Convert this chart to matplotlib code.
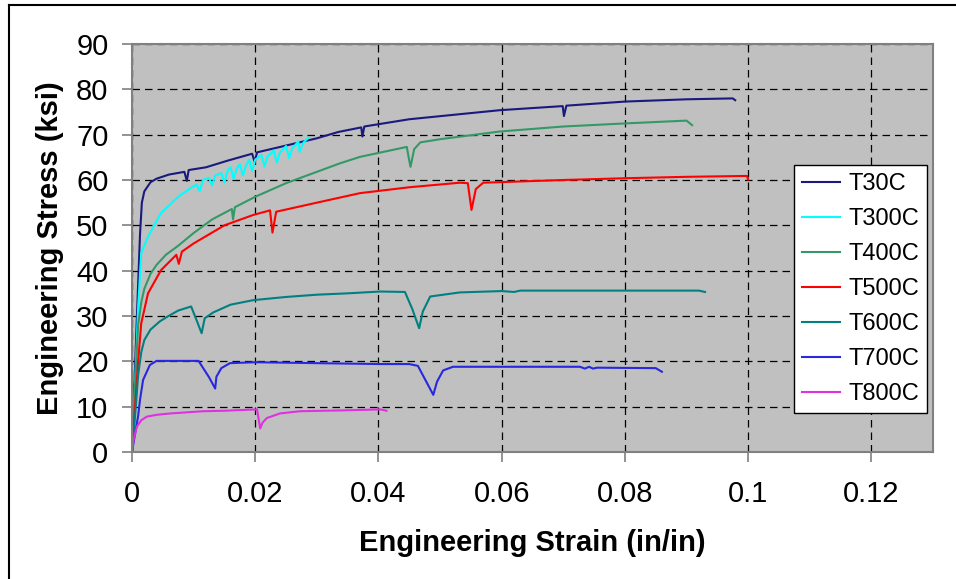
import matplotlib
matplotlib.use("Agg")
import matplotlib.pyplot as plt
from matplotlib.lines import Line2D

plt.rcParams['font.family'] = ['Liberation Sans', 'DejaVu Sans']

# strain (in/in) / stress (ksi)
t30_x = [0, 0.0008, 0.0013, 0.0016, 0.002, 0.003, 0.004, 0.006, 0.0085, 0.0089, 0.0092,
         0.012, 0.0156, 0.0195, 0.0199, 0.0203, 0.025, 0.03, 0.0335, 0.0372, 0.0374, 0.0377,
         0.045, 0.0597, 0.0699, 0.0701, 0.0705, 0.08, 0.09, 0.0975, 0.0979]
t30_y = [0, 30, 48, 55, 57.5, 59.5, 60.3, 61.2, 61.8, 59.8, 62.2,
         62.8, 64.3, 65.8, 64.0, 66.1, 67.6, 69.2, 70.6, 71.6, 69.6, 71.8,
         73.4, 75.4, 76.3, 74.1, 76.4, 77.3, 77.8, 78.0, 77.6]

t300_x = [0, 0.0005, 0.001, 0.0015, 0.0026, 0.0047, 0.0075, 0.0095, 0.0105, 0.011, 0.0115,
          0.0125, 0.013, 0.0135, 0.0145, 0.015, 0.0155, 0.016, 0.0165, 0.017, 0.0175,
          0.018, 0.0185, 0.019, 0.0195, 0.020, 0.021, 0.0215, 0.022, 0.023, 0.0235,
          0.024, 0.025, 0.0255, 0.026, 0.027, 0.0272, 0.0278, 0.0286]
t300_y = [0, 15, 32, 43.9, 47.5, 52.7, 56.3, 58.2, 59.0, 57.5, 60.0,
          60.5, 58.8, 61.0, 61.5, 59.5, 62.0, 62.8, 60.3, 62.5, 63.5,
          61.0, 63.2, 64.5, 62.0, 64.5, 65.5, 63.0, 65.2, 66.5, 63.8,
          66.0, 67.5, 64.8, 67.0, 68.5, 66.2, 68.2, 69.3]

t400_x = [0, 0.0005, 0.001, 0.0015, 0.002, 0.003, 0.004, 0.0055, 0.0075, 0.01, 0.013,
          0.0162, 0.0164, 0.0167, 0.02, 0.025, 0.03, 0.0338, 0.037, 0.0446, 0.0449,
          0.0452, 0.0458, 0.0468, 0.05, 0.0597, 0.07, 0.0803, 0.09, 0.0909]
t400_y = [0, 15, 28, 33, 36, 39.3, 41.3, 43.5, 45.5, 48.3, 51.3,
          53.6, 51.3, 54.0, 56.3, 59.3, 61.8, 63.7, 65.1, 67.3, 65.0,
          62.9, 66.8, 68.3, 69.0, 70.7, 71.8, 72.5, 73.1, 72.1]

t500_x = [0, 0.0005, 0.001, 0.0015, 0.0026, 0.0047, 0.0072, 0.0076, 0.0081, 0.01, 0.015,
          0.0197, 0.0224, 0.0228, 0.0234, 0.03, 0.037, 0.045, 0.0532, 0.0545, 0.0551,
          0.0558, 0.057, 0.07, 0.0803, 0.09, 0.0998, 0.1]
t500_y = [0, 10, 20, 28.4, 35, 40.1, 43.5, 41.5, 44.2, 46, 50,
          52.3, 53.3, 48.4, 53.0, 55.0, 57.1, 58.4, 59.4, 59.3, 53.4,
          58.0, 59.4, 60.0, 60.4, 60.7, 60.9, 60.1]

t600_x = [0, 0.0005, 0.001, 0.0015, 0.002, 0.003, 0.0045, 0.0058, 0.0075, 0.0096, 0.0105,
          0.0113, 0.0118, 0.0132, 0.016, 0.0197, 0.025, 0.03, 0.035, 0.0403, 0.0443,
          0.0455, 0.0466, 0.0472, 0.0484, 0.0532, 0.06, 0.062, 0.063, 0.07, 0.08,
          0.092, 0.093]
t600_y = [0, 8, 17, 22, 24.7, 27, 28.8, 29.9, 31.2, 32.1, 29.0,
          26.2, 29.5, 30.8, 32.5, 33.5, 34.2, 34.7, 35.0, 35.4, 35.3,
          31.5, 27.3, 31.0, 34.3, 35.2, 35.5, 35.3, 35.6, 35.6, 35.6,
          35.6, 35.3]

t700_x = [0, 0.0005, 0.001, 0.0013, 0.0018, 0.0029, 0.004, 0.0108, 0.0125, 0.0135, 0.0137,
          0.0145, 0.0159, 0.02, 0.025, 0.03, 0.035, 0.0403, 0.045, 0.0464, 0.0489,
          0.0495, 0.0505, 0.0521, 0.0727, 0.0735, 0.0742, 0.0748, 0.0755, 0.085, 0.086]
t700_y = [0, 4, 8, 11.5, 15.9, 19.2, 20.1, 20.1, 16.5, 14.0, 16.6,
          18.5, 19.6, 19.8, 19.7, 19.6, 19.5, 19.4, 19.4, 19.0, 12.6,
          15.5, 18.0, 18.8, 18.8, 18.4, 18.8, 18.4, 18.6, 18.5, 17.7]

t800_x = [0, 0.0003, 0.0008, 0.0015, 0.0024, 0.004, 0.0062, 0.0116, 0.015, 0.0203, 0.0208,
          0.0212, 0.0219, 0.024, 0.0273, 0.035, 0.0403, 0.0413]
t800_y = [0, 3, 5.6, 7, 7.8, 8.2, 8.5, 9.0, 9.1, 9.4, 5.2,
          6.5, 7.5, 8.5, 9.0, 9.2, 9.4, 9.1]

series = [
    ("T30C", t30_x, t30_y, "#1a1a7e"),
    ("T300C", t300_x, t300_y, "#00ffff"),
    ("T400C", t400_x, t400_y, "#339966"),
    ("T500C", t500_x, t500_y, "#ff0000"),
    ("T600C", t600_x, t600_y, "#008080"),
    ("T700C", t700_x, t700_y, "#2828e0"),
    ("T800C", t800_x, t800_y, "#e030e0"),
]

x_ticks = [0, 0.02, 0.04, 0.06, 0.08, 0.1, 0.12]
x_labels = ["0", "0.02", "0.04", "0.06", "0.08", "0.1", "0.12"]
y_ticks = [0, 10, 20, 30, 40, 50, 60, 70, 80, 90]

fig = plt.figure(figsize=(9.56, 5.79), dpi=100)
ax = fig.add_axes([132 / 956, 1 - 452 / 579, (933 - 132) / 956, (452 - 44) / 579])
ax.set_facecolor("#c0c0c0")

# outer frame, only top and left edges are visible in the picture
fig.add_artist(Line2D([9 / 956, 9 / 956], [0, 1 - 5 / 579], color="black", lw=1.5))
fig.add_artist(Line2D([9 / 956, 1], [1 - 5 / 579, 1 - 5 / 579], color="black", lw=1.5))

for name, xs, ys, col in series:
    ax.plot(xs, ys, color=col, lw=1.5, label=name)

ax.set_xlim(0, 0.13)
ax.set_ylim(0, 90)
ax.set_xticks(x_ticks)
ax.set_xticklabels(x_labels)
ax.set_yticks(y_ticks)
ax.grid(True, color="black", linestyle=(0, (6, 4)), lw=0.9)
ax.set_axisbelow(True)
for s in ax.spines.values():
    s.set_color("#808080")
    s.set_linewidth(1.5)
ax.tick_params(direction="out", length=7, width=1.2, color="#808080",
               labelsize=21, labelcolor="black")
ax.tick_params(axis="x", pad=13)
ax.tick_params(axis="y", pad=10)

ax.set_xlabel("Engineering Strain (in/in)", fontsize=21, fontweight="bold", labelpad=15)
ax.set_ylabel("Engineering Stress (ksi)", fontsize=21, fontweight="bold", labelpad=9)

leg = fig.legend(loc="center", bbox_to_anchor=(860.5 / 956, 1 - 289 / 579),
                 fontsize=17, frameon=True, fancybox=False, edgecolor="black",
                 framealpha=1, labelspacing=0.55, handlelength=1.6, handletextpad=0.35,
                 borderpad=0.35)
leg.get_frame().set_linewidth(1.0)

fig.savefig("out.png", dpi=100)
